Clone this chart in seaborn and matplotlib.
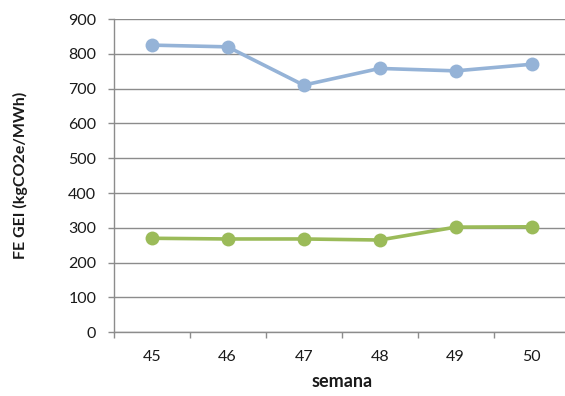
import matplotlib
matplotlib.use("Agg")
import matplotlib.pyplot as plt
from matplotlib.ticker import FixedLocator, NullFormatter
import seaborn as sns
import pandas as pd

# Weekly grid emission factors
semanas = ["45", "46", "47", "48", "49", "50"]
serie_azul = [825, 820, 710, 758, 751, 770]
serie_verde = [270, 268, 268, 265, 302, 303]
y_ticks = [0, 100, 200, 300, 400, 500, 600, 700, 800, 900]

sns.set_theme(style="white")
plt.rcParams["font.family"] = ["Lato", "DejaVu Sans"]

GRID = "#8c8c8c"
BLUE = "#95b3d7"
GREEN = "#9bbb59"
TEXT = "#1a1a1a"

df = pd.DataFrame({
    "pos": list(range(len(semanas))) * 2,
    "valor": serie_azul + serie_verde,
    "serie": ["a"] * len(semanas) + ["v"] * len(semanas),
})

fig = plt.figure(figsize=(5.65, 3.96), dpi=100)
ax = fig.add_axes([0.2012, 0.161, 0.807, 0.791])

sns.lineplot(data=df, x="pos", y="valor", hue="serie",
             palette={"a": BLUE, "v": GREEN}, marker="o", markersize=10,
             markeredgewidth=0, linewidth=2.6, legend=False, ax=ax,
             zorder=3)

ax.set_xlim(-0.5, len(semanas) - 0.5)
ax.set_ylim(0, 900)
ax.set_yticks(y_ticks)
ax.yaxis.grid(True, color=GRID, linewidth=1.0)
ax.xaxis.grid(False)
ax.set_axisbelow(True)

# category labels centred, tick marks on category boundaries
ax.xaxis.set_major_locator(FixedLocator([i - 0.5 for i in range(len(semanas) + 1)]))
ax.xaxis.set_major_formatter(NullFormatter())
ax.xaxis.set_minor_locator(FixedLocator(list(range(len(semanas)))))
ax.set_xticklabels(semanas, minor=True)
ax.tick_params(axis="x", which="major", length=4.5, width=1, color=GRID,
               direction="out", bottom=True)
ax.tick_params(axis="x", which="minor", length=0, pad=12.5, labelsize=11.5,
               labelcolor=TEXT)
ax.tick_params(axis="y", length=4.5, width=1, color=GRID, direction="out",
               left=True, pad=8, labelsize=11.5, labelcolor=TEXT)

for side in ["top", "right"]:
    ax.spines[side].set_visible(False)
for side in ["left", "bottom"]:
    ax.spines[side].set_color(GRID)
    ax.spines[side].set_linewidth(1.0)

ax.set_xlabel("semana", fontsize=13, fontweight="bold", color=TEXT,
              labelpad=7)
ax.set_ylabel("FE GEI (kgCO2e/MWh)", fontsize=11.5, fontweight="bold",
              color=TEXT, labelpad=29)

fig.savefig("out.png", dpi=100)
